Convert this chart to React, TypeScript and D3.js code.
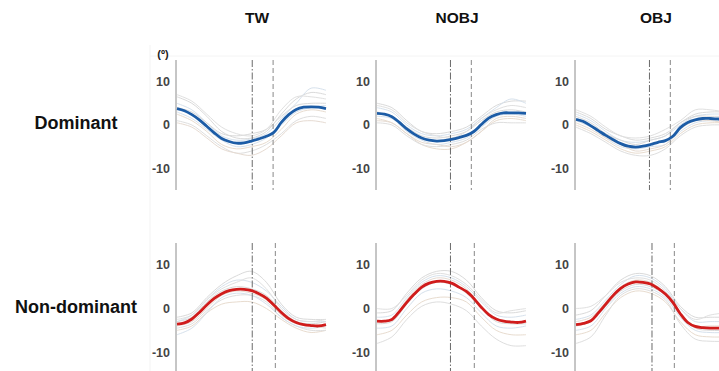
import * as d3 from 'd3';

// x is % of cycle, y in degrees
const meanX = [0, 5, 10, 15, 20, 25, 30, 35, 40, 45, 50, 55, 60, 65, 70, 75, 80, 85, 90, 95, 100];
const grayX = [0, 10, 20, 30, 40, 50, 60, 70, 80, 90, 100];

const conditions = ['TW', 'NOBJ', 'OBJ'];
const sides = ['Dominant', 'Non-dominant'];

const meanTWDom = [3.8, 3.3, 2.4, 1.2, -0.3, -1.8, -3.1, -3.8, -4.2, -4.1, -3.7, -3.2, -2.6, -1.7, 0.6, 2.4, 3.6, 4.1, 4.2, 4.1, 3.8];
const meanNOBJDom = [2.7, 2.5, 1.9, 0.6, -0.9, -2.1, -3.0, -3.5, -3.7, -3.6, -3.3, -2.9, -2.4, -1.5, 0.1, 1.6, 2.4, 2.8, 2.8, 2.8, 2.7];
const meanOBJDom = [1.3, 0.8, -0.2, -1.3, -2.4, -3.4, -4.3, -4.9, -5.1, -4.9, -4.5, -4.0, -3.6, -2.6, -0.6, 0.6, 1.2, 1.5, 1.5, 1.4, 1.3];
const meanTWNon = [-3.6, -3.3, -2.4, -0.9, 0.8, 2.3, 3.4, 4.1, 4.4, 4.4, 4.1, 3.4, 2.4, 0.8, -0.9, -2.3, -3.2, -3.7, -3.9, -4.0, -3.7];
const meanNOBJNon = [-2.9, -2.9, -2.5, -0.7, 1.4, 3.3, 4.9, 5.8, 6.2, 6.2, 5.8, 4.9, 3.9, 2.3, 0.3, -1.4, -2.4, -2.9, -3.1, -3.2, -2.9];
const meanOBJNon = [-3.7, -3.4, -2.8, -1.0, 1.0, 3.0, 4.6, 5.6, 6.1, 6.0, 5.6, 4.6, 3.3, 1.4, -1.2, -3.2, -4.1, -4.4, -4.5, -4.5, -4.5];

const grayTWDom = [
  [6.5, 5.0, 2.0, -1.5, -3.0, -3.0, -1.5, 2.5, 6.0, 7.5, 7.0],
  [5.0, 3.5, 0.5, -2.5, -3.5, -3.2, -2.0, 1.5, 5.0, 8.5, 8.0],
  [2.5, 1.0, -1.5, -4.5, -5.5, -5.0, -4.0, -1.0, 2.5, 3.5, 3.0],
  [1.0, 0.0, -2.5, -5.0, -6.5, -6.0, -4.5, -2.0, 1.0, 2.0, 1.5],
  [4.0, 3.0, 0.5, -2.0, -2.5, -2.0, -1.0, 2.0, 4.5, 5.0, 5.0],
  [3.0, 1.5, -1.0, -3.5, -5.0, -4.5, -3.0, 0.0, 3.0, 4.0, 4.5],
  [7.0, 5.5, 2.5, -0.5, -2.0, -2.5, -1.0, 3.5, 6.5, 6.5, 6.0],
  [0.5, -0.5, -3.0, -5.5, -6.5, -7.0, -5.5, -2.5, 0.5, 1.0, 0.5],
];
const grayNOBJDom = [
  [5.0, 4.0, 1.0, -1.5, -2.0, -1.5, -0.5, 2.0, 4.5, 5.5, 5.5],
  [4.0, 3.0, 0.0, -2.0, -2.5, -2.0, -1.0, 1.5, 4.0, 6.0, 5.0],
  [1.5, 0.5, -2.0, -4.5, -5.5, -5.5, -4.0, -1.5, 1.0, 1.5, 1.0],
  [0.5, 0.0, -2.5, -4.5, -5.0, -4.5, -3.5, -1.0, 0.5, 0.5, 0.5],
  [3.0, 2.0, -0.5, -2.5, -3.0, -2.5, -1.5, 1.0, 3.0, 3.5, 3.0],
  [2.0, 1.5, -1.5, -3.5, -4.5, -4.0, -3.0, -0.5, 2.0, 2.5, 2.0],
  [4.5, 3.5, 0.5, -1.5, -2.5, -3.0, -1.5, 1.5, 3.5, 4.5, 4.0],
  [1.0, 0.5, -2.0, -4.0, -4.5, -5.0, -4.0, -1.5, 1.5, 2.0, 1.5],
];
const grayOBJDom = [
  [3.0, 1.5, -1.0, -2.5, -3.5, -3.0, -2.0, 0.5, 2.5, 3.0, 3.0],
  [2.5, 1.0, -1.5, -3.5, -4.0, -3.5, -2.5, 0.0, 2.0, 2.5, 2.5],
  [0.0, -1.5, -3.5, -5.5, -6.5, -6.0, -5.0, -2.0, 0.0, 0.5, 0.5],
  [-0.5, -2.0, -4.0, -6.0, -7.0, -7.0, -5.5, -2.5, -0.5, 0.0, 0.0],
  [2.0, 0.5, -2.0, -3.5, -4.5, -3.5, -2.5, 0.5, 2.0, 2.0, 2.0],
  [1.0, -0.5, -3.0, -5.0, -5.5, -5.0, -4.5, -1.5, 0.5, 1.0, 1.0],
  [3.5, 2.0, -0.5, -2.5, -3.0, -2.5, -1.0, 1.0, 3.5, 3.5, 3.0],
  [0.5, -1.0, -3.0, -4.5, -6.0, -5.5, -4.5, -1.0, 1.0, 1.0, 0.5],
];
const grayTWNon = [
  [-2.0, -1.0, 2.5, 5.5, 7.5, 8.5, 6.0, 1.0, -2.0, -2.5, -2.5],
  [-3.0, -1.5, 2.0, 5.0, 6.5, 6.0, 4.0, 0.5, -2.5, -3.0, -3.0],
  [-5.0, -4.0, -1.0, 1.0, 1.5, 1.5, 0.0, -2.5, -4.5, -5.5, -5.0],
  [-4.5, -3.5, -0.5, 2.0, 3.0, 3.0, 1.5, -2.0, -4.0, -5.0, -5.0],
  [-3.0, -2.0, 1.5, 4.0, 5.0, 4.5, 3.0, -0.5, -3.0, -3.5, -3.0],
  [-6.0, -4.5, -1.0, 2.5, 3.5, 3.0, 1.0, -2.0, -4.0, -4.5, -4.0],
  [-2.5, -1.5, 2.0, 4.5, 6.0, 7.0, 4.5, 0.0, -2.5, -3.0, -2.5],
  [-4.0, -3.0, 0.0, 3.0, 4.0, 3.5, 2.0, -1.5, -3.5, -4.0, -4.5],
];
const grayNOBJNon = [
  [-1.0, -0.5, 3.5, 7.0, 8.5, 8.5, 6.5, 2.5, -0.5, -1.0, -0.5],
  [-2.0, -1.5, 2.5, 6.0, 7.5, 7.0, 5.0, 1.5, -1.5, -2.0, -1.5],
  [-6.0, -5.0, -1.5, 1.5, 2.5, 2.5, 1.5, -2.0, -5.0, -6.0, -6.0],
  [-8.0, -6.5, -2.5, 0.5, 1.5, 1.0, -0.5, -4.0, -7.0, -8.5, -8.5],
  [-3.5, -3.0, 1.0, 4.5, 6.0, 5.5, 3.5, 0.0, -3.0, -3.5, -3.5],
  [-4.5, -4.0, 0.0, 3.5, 4.5, 4.0, 2.5, -1.0, -4.0, -4.5, -4.0],
  [0.0, 0.0, 3.0, 6.5, 8.0, 7.5, 5.5, 2.0, -1.0, -0.5, 0.0],
  [-3.0, -2.5, 2.0, 5.5, 7.0, 6.5, 4.5, 0.5, -2.5, -3.0, -3.0],
];
const grayOBJNon = [
  [-1.5, -0.5, 3.0, 6.5, 8.0, 7.5, 5.0, 0.5, -2.0, -2.0, -2.0],
  [-2.5, -1.5, 2.0, 5.5, 7.5, 7.0, 4.5, 0.0, -3.0, -3.0, -3.0],
  [-6.0, -5.0, -1.0, 2.5, 4.0, 3.5, 1.5, -3.0, -6.0, -6.5, -6.5],
  [-8.0, -6.5, -1.5, 3.0, 4.5, 4.0, 2.0, -3.5, -7.0, -7.5, -7.5],
  [-4.0, -3.0, 0.5, 4.0, 5.5, 5.0, 3.0, -1.5, -4.5, -5.0, -5.0],
  [-5.0, -4.0, 0.0, 3.5, 5.0, 4.5, 2.5, -2.0, -5.0, -5.5, -5.5],
  [0.0, 0.5, 3.0, 6.0, 7.0, 6.5, 4.0, 0.0, -2.5, -1.5, -1.0],
  [-3.0, -2.0, 1.5, 5.0, 6.5, 6.0, 3.5, -1.0, -4.0, -4.0, -4.0],
];

// event markers (% of cycle): dash-dot, dashed
const eventDashDot = [[50.5, 49.3, 49.3], [50.5, 49.3, 51]];
const eventDashed = [[64.5, 63.3, 63.3], [66, 65.3, 66]];

const means = [[meanTWDom, meanNOBJDom, meanOBJDom], [meanTWNon, meanNOBJNon, meanOBJNon]];
const grays = [[grayTWDom, grayNOBJDom, grayOBJDom], [grayTWNon, grayNOBJNon, grayOBJNon]];
const yTicks = [10, 0, -10];

const W = 719;
const H = 371;
const panelLeft = [176, 376, 575];
const panelW = 150;
const rowRange = [[190, 60], [374, 243]];
const meanColors = ['#1c5ca6', '#d01c1c'];
const grayColors = ['#dadada', '#d6e1ec', '#e8dccf', '#dedede', '#d9d9d9', '#d6e1ec', '#e0e0e0', '#e6dbd2'];

function Panel({ row, col }: { row: number; col: number }) {
  const x0 = panelLeft[col];
  const x = d3.scaleLinear().domain([0, 100]).range([x0 + 1, x0 + panelW]);
  const y = d3.scaleLinear().domain([-15, 15]).range(rowRange[row]);
  const line = d3
    .line<[number, number]>()
    .x((d) => x(d[0]))
    .y((d) => y(d[1]))
    .curve(d3.curveCatmullRom);
  const [yb, yt] = rowRange[row];

  return (
    <g>
      {grays[row][col].map((g, i) => (
        <path
          key={i}
          d={line(g.map((v, j) => [grayX[j], v]) as [number, number][]) || ''}
          fill="none"
          stroke={grayColors[i % grayColors.length]}
          strokeWidth={1}
        />
      ))}
      <line
        x1={x(eventDashDot[row][col])}
        x2={x(eventDashDot[row][col])}
        y1={yt}
        y2={yb}
        stroke="#6a6a6a"
        strokeWidth={1}
        strokeDasharray="7,2,1.5,2"
      />
      <line
        x1={x(eventDashed[row][col])}
        x2={x(eventDashed[row][col])}
        y1={yt}
        y2={yb}
        stroke="#888"
        strokeWidth={1}
        strokeDasharray="5,3"
      />
      <path
        d={line(means[row][col].map((v, j) => [meanX[j], v]) as [number, number][]) || ''}
        fill="none"
        stroke={meanColors[row]}
        strokeWidth={2.8}
      />
      <line x1={x0} x2={x0} y1={yt} y2={yb} stroke="#8c8c8c" strokeWidth={1} />
      {yTicks.map((t) => (
        <text
          key={t}
          x={x0 - 6}
          y={y(t)}
          dy="0.35em"
          textAnchor="end"
          fontSize={12.5}
          fontWeight="bold"
          fill="#444"
        >
          {t}
        </text>
      ))}
    </g>
  );
}

export default function App() {
  return (
    <svg
      width={W}
      height={H}
      style={{ position: 'absolute', left: 0, top: 0, background: '#fff' }}
      fontFamily="'Liberation Sans', Arial, sans-serif"
    >
      <rect width={W} height={H} fill="#fff" />
      {/* faint edges of the pasted figure */}
      <line x1={150} x2={150} y1={45} y2={H} stroke="#f3f3f3" />
      <line x1={150} x2={W} y1={56} y2={56} stroke="#f4f4f4" />

      {conditions.map((c, i) => (
        <text
          key={c}
          x={panelLeft[i] + 81}
          y={23}
          textAnchor="middle"
          fontSize={15.5}
          fontWeight="bold"
          fill="#111"
        >
          {c}
        </text>
      ))}
      <text x={76} y={129} textAnchor="middle" fontSize={18} fontWeight="bold" fill="#111">
        {sides[0]}
      </text>
      <text x={76} y={313} textAnchor="middle" fontSize={18} fontWeight="bold" fill="#111">
        {sides[1]}
      </text>
      <text x={163} y={58} textAnchor="middle" fontSize={11} fontWeight="bold" fill="#222">
        (º)
      </text>

      {[0, 1].map((r) => [0, 1, 2].map((c) => <Panel key={`${r}-${c}`} row={r} col={c} />))}
    </svg>
  );
}
